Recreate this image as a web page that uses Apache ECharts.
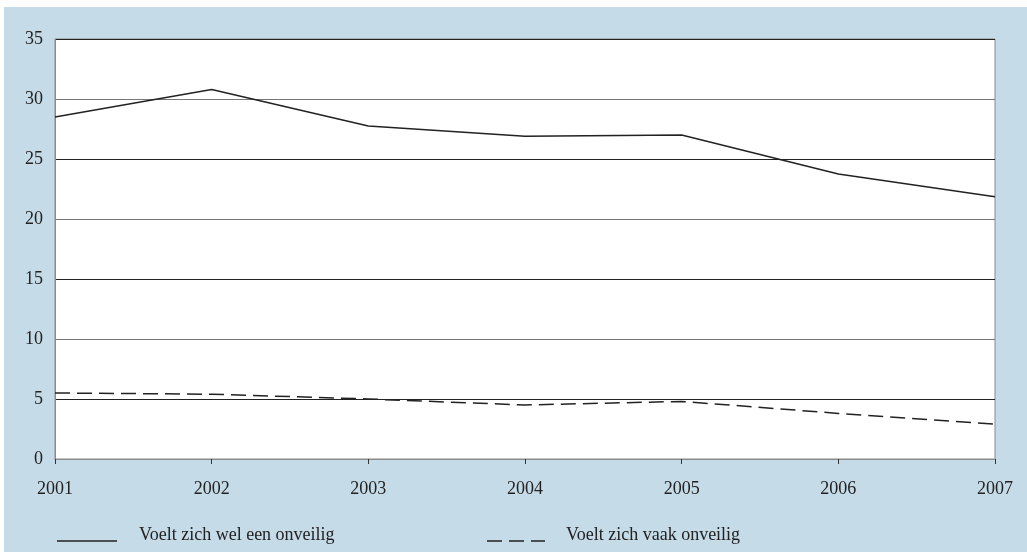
<!DOCTYPE html>
<html><head><meta charset="utf-8">
<script src="https://cdn.jsdelivr.net/npm/echarts@6/dist/echarts.min.js"></script>
<style>html,body{margin:0;padding:0;background:#fff}#c{width:1027px;height:552px}</style>
</head><body><div id="c"></div>
<script>
const years = ['2001','2002','2003','2004','2005','2006','2007'];
const welEen = [28.5, 30.8, 27.75, 26.9, 27.0, 23.75, 21.85];
const vaak = [5.5, 5.4, 5.0, 4.5, 4.8, 3.8, 2.9];
const names = ['Voelt zich wel een onveilig', 'Voelt zich vaak onveilig'];

const font = 'Liberation Serif';
const txt = {fontFamily:font, fontSize:18, fill:'#222'};
const chart = echarts.init(document.getElementById('c'));
chart.setOption({
  animation: false,
  backgroundColor: '#fff',
  graphic: [
    {type:'rect', z:-100, shape:{x:4,y:7,width:1023,height:545}, style:{fill:'#c6dbe8'}, silent:true},
    {type:'line', shape:{x1:57,y1:541,x2:117,y2:541}, style:{stroke:'#222', lineWidth:1.5}},
    {type:'text', x:139, y:535, style:Object.assign({text:names[0], verticalAlign:'middle'}, txt)},
    {type:'line', shape:{x1:487,y1:541,x2:545,y2:541}, style:{stroke:'#222', lineWidth:1.5, lineDash:[15,7]}},
    {type:'text', x:566, y:535, style:Object.assign({text:names[1], verticalAlign:'middle'}, txt)}
  ],
  grid: {left:55, right:32, top:39, bottom:93, show:true, backgroundColor:'#fff', borderColor:'#8a8a8a', borderWidth:1},
  xAxis: {type:'category', data:years, boundaryGap:false,
    axisLine:{lineStyle:{color:'#8a8a8a', width:1}},
    axisTick:{show:true, length:5, lineStyle:{color:'#333'}},
    axisLabel:{fontFamily:font, fontSize:18, color:'#222', margin:21},
    splitLine:{show:false}},
  yAxis: {type:'value', min:0, max:35, interval:5,
    axisLine:{show:true, lineStyle:{color:'#8a8a8a'}},
    axisTick:{show:false},
    axisLabel:{fontFamily:font, fontSize:18, color:'#222', margin:12},
    splitLine:{lineStyle:{color:['#777','#222'], width:1}}},
  series: [
    {name:names[0], type:'line', data:welEen, symbol:'none', lineStyle:{color:'#222', width:1.5}},
    {name:names[1], type:'line', data:vaak, symbol:'none', lineStyle:{color:'#222', width:1.5, type:[15,7]}}
  ]
});
</script></body></html>
